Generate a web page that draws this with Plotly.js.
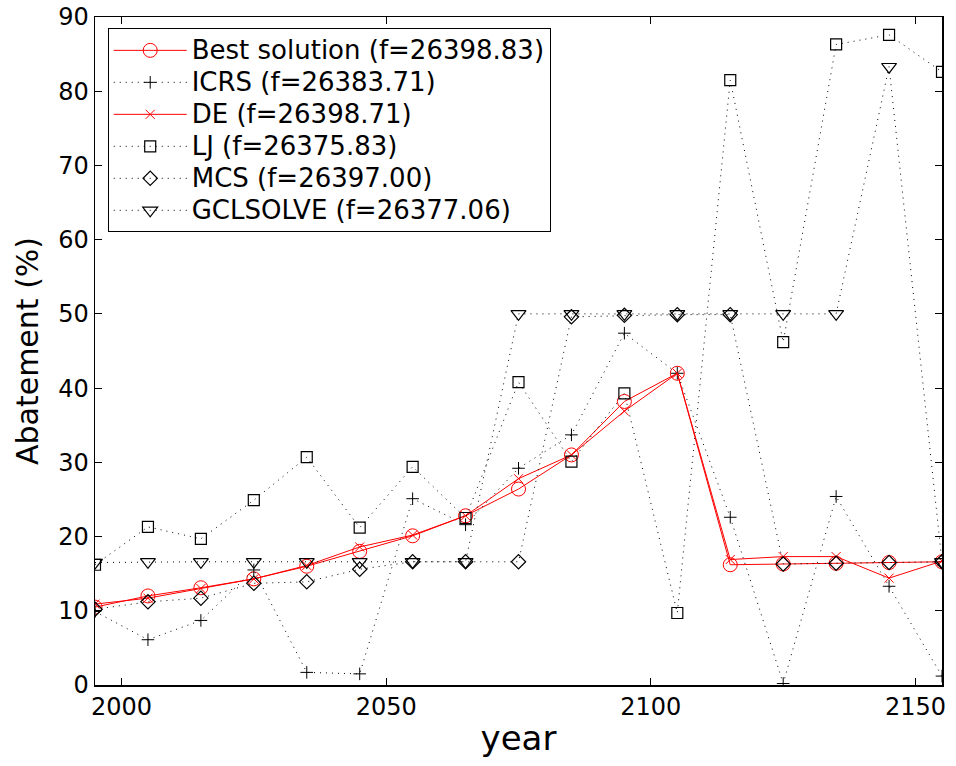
<!DOCTYPE html>
<html>
<head>
<meta charset="utf-8">
<script src="https://cdn.plot.ly/plotly-3.0.1.min.js"></script>
<style>html,body{margin:0;padding:0;background:#fff;}#chart{width:956px;height:766px;}</style>
</head>
<body>
<div id="chart"></div>
<script>
const years = [1995, 2005, 2015, 2025, 2035, 2045, 2055, 2065, 2075, 2085, 2095, 2105, 2115, 2125, 2135, 2145, 2155];
const bestSolution = [10.5, 12.0, 13.1, 14.3, 16.0, 18.0, 20.1, 22.8, 26.4, 31.0, 38.2, 42.0, 16.2, 16.3, 16.4, 16.5, 16.6];
const icrs = [9.9, 6.1, 8.7, 15.5, 1.7, 1.5, 25.1, 21.6, 29.2, 33.7, 47.4, 42.0, 22.6, 0.2, 25.4, 13.3, 1.2];
const de = [10.9, 11.7, 13.0, 14.3, 16.1, 18.6, 20.2, 22.8, 27.8, 31.0, 36.9, 42.0, 16.9, 17.3, 17.3, 14.4, 16.7];
const lj = [16.2, 21.3, 19.7, 24.9, 30.7, 21.2, 29.4, 22.5, 40.8, 30.1, 39.3, 9.7, 81.5, 46.2, 86.3, 87.6, 82.6];
const mcs = [10.2, 11.2, 11.7, 13.7, 13.9, 15.6, 16.6, 16.6, 16.6, 49.6, 49.8, 49.9, 49.9, 16.3, 16.4, 16.5, 16.6];
const gclsolve = [16.5, 16.6, 16.6, 16.6, 16.6, 16.6, 16.6, 16.6, 50.0, 50.0, 50.0, 50.0, 50.0, 50.0, 50.0, 83.3, 16.6];
const names = ['Best solution (f=26398.83)', 'ICRS (f=26383.71)', 'DE (f=26398.71)', 'LJ (f=26375.83)', 'MCS (f=26397.00)', 'GCLSOLVE (f=26377.06)'];
const xTicks = [2000, 2050, 2100, 2150];
const yTicks = [0, 10, 20, 30, 40, 50, 60, 70, 80, 90];

const FONT = 'DejaVu Sans, Liberation Sans, Arial, sans-serif';
const dotted = {color: '#000', width: 1, dash: '1px,5px'};
const red = '#ff0000';
// legend labels drawn larger than the legend's nominal font so row spacing stays compact
const lbl = s => '<span style="font-size:26px">' + s + '</span>';

const traces = [
  {x: years, y: bestSolution, name: lbl(names[0]), mode: 'lines+markers',
   line: {color: red, width: 1},
   marker: {symbol: 'circle-open', size: 14, color: red, line: {color: red, width: 1}}},
  {x: years, y: icrs, name: lbl(names[1]), mode: 'lines+markers',
   line: dotted,
   marker: {symbol: 'cross-thin-open', size: 9, color: '#000', line: {color: '#000', width: 1}}},
  {x: years, y: de, name: lbl(names[2]), mode: 'lines+markers',
   line: {color: red, width: 1},
   marker: {symbol: 'x-thin-open', size: 9, color: red, line: {color: red, width: 1}}},
  {x: years, y: lj, name: lbl(names[3]), mode: 'lines+markers',
   line: dotted,
   marker: {symbol: 'square-open', size: 11, color: '#000', line: {color: '#000', width: 1.2}}},
  {x: years, y: mcs, name: lbl(names[4]), mode: 'lines+markers',
   line: dotted,
   marker: {symbol: 'diamond-open', size: 11, color: '#000', line: {color: '#000', width: 1.2}}},
  {x: years, y: gclsolve, name: lbl(names[5]), mode: 'lines+markers',
   line: dotted,
   marker: {symbol: 'triangle-down-open', size: 13, color: '#000', line: {color: '#000', width: 1.2}}}
];

const axisCommon = {
  showline: true, linecolor: '#000', linewidth: 1.5, mirror: 'allticks',
  ticks: 'inside', ticklen: 7, tickwidth: 1, tickcolor: '#000',
  showgrid: false, zeroline: false,
  tickfont: {family: FONT, size: 24, color: '#000'}
};

const layout = {
  width: 956, height: 766,
  margin: {l: 95, r: 14, t: 17, b: 81},
  paper_bgcolor: '#fff', plot_bgcolor: '#fff',
  font: {family: FONT, color: '#000'},
  showlegend: true,
  legend: {
    x: 0.015, y: 0.983, xanchor: 'left', yanchor: 'top',
    bgcolor: '#fff', bordercolor: '#000', borderwidth: 1,
    font: {family: FONT, size: 22.3, color: '#000'},
    itemwidth: 73, tracegroupgap: 0
  },
  xaxis: Object.assign({}, axisCommon, {
    range: [1995, 2155], tickmode: 'array', tickvals: xTicks, ticktext: xTicks.map(String),
    title: {text: 'year', font: {family: FONT, size: 34, color: '#000'}, standoff: 6},
    automargin: false
  }),
  yaxis: Object.assign({}, axisCommon, {
    range: [0, 90], tickmode: 'array', tickvals: yTicks, ticktext: yTicks.map(String),
    title: {text: 'Abatement (%)', font: {family: FONT, size: 30, color: '#000'}, standoff: 10},
    automargin: false
  })
};

Plotly.newPlot('chart', traces, layout, {displayModeBar: false, staticPlot: true});
</script>
</body>
</html>
